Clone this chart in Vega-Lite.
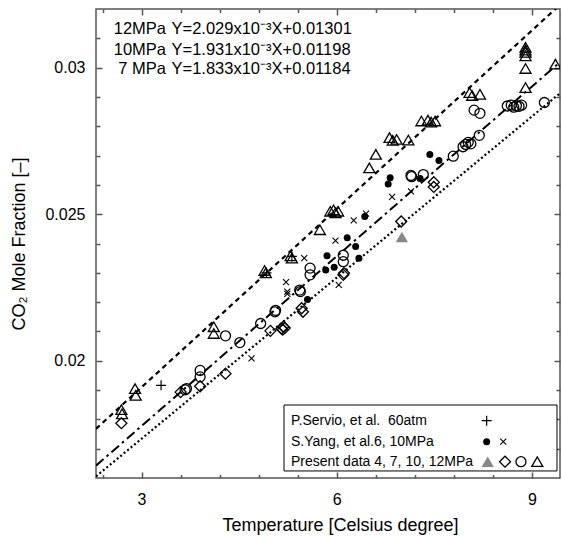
{
  "$schema": "https://vega.github.io/schema/vega-lite/v6.json",
  "width": 464,
  "height": 469,
  "autosize": {"type": "none"},
  "padding": {"left": 96, "top": 9, "right": 2, "bottom": 58},
  "config": {
    "font": "Liberation Sans",
    "view": {"stroke": "#555", "strokeWidth": 1.5},
    "axis": {"grid": false, "domain": false, "tickColor": "#555", "tickWidth": 1.5, "labelFont": "Liberation Sans", "labelFontSize": 16, "labelColor": "#000", "titleFont": "Liberation Sans", "titleFontSize": 18, "titleFontWeight": "normal", "titleColor": "#000"}
  },
  "datasets": {
    "fits": [
      {"fit": "12MPa", "temp": 2.3, "frac": 0.017677},
      {"fit": "12MPa", "temp": 9.43, "frac": 0.032143},
      {"fit": "10MPa", "temp": 2.3, "frac": 0.016421},
      {"fit": "10MPa", "temp": 9.43, "frac": 0.030189},
      {"fit": "7MPa", "temp": 2.3, "frac": 0.016056},
      {"fit": "7MPa", "temp": 9.43, "frac": 0.029125}
    ],
    "notes": [
      {"kind": "fit", "temp": 3.376, "frac": 0.031308, "label": "12MPa"},
      {"kind": "fit", "temp": 3.376, "frac": 0.030602, "label": "10MPa"},
      {"kind": "fit", "temp": 3.376, "frac": 0.029943, "label": "7 MPa"},
      {"kind": "eq", "temp": 3.46, "frac": 0.031308, "label": "Y=2.029x10⁻³X+0.01301"},
      {"kind": "eq", "temp": 3.46, "frac": 0.030602, "label": "Y=1.931x10⁻³X+0.01198"},
      {"kind": "eq", "temp": 3.46, "frac": 0.029943, "label": "Y=1.833x10⁻³X+0.01184"},
      {"kind": "key", "temp": 5.296, "frac": 0.017955, "label": "P.Servio, et al.\u00a0\u00a060atm"},
      {"kind": "key", "temp": 5.296, "frac": 0.017238, "label": "S.Yang, et al.6, 10MPa"},
      {"kind": "key", "temp": 5.296, "frac": 0.016556, "label": "Present data 4, 7, 10, 12MPa"}
    ],
    "keybox": [
      {"temp": 5.189, "temp2": 9.384, "frac": 0.01849, "frac2": 0.01624}
    ],
    "points": [
      {"set": "12MPa", "temp": 2.69, "frac": 0.01833}, {"set": "12MPa", "temp": 2.70, "frac": 0.01819},
      {"set": "12MPa", "temp": 2.90, "frac": 0.01905}, {"set": "12MPa", "temp": 2.91, "frac": 0.01882},
      {"set": "12MPa", "temp": 4.11, "frac": 0.02116}, {"set": "12MPa", "temp": 4.11, "frac": 0.02093},
      {"set": "12MPa", "temp": 4.89, "frac": 0.02308}, {"set": "12MPa", "temp": 4.91, "frac": 0.02300},
      {"set": "12MPa", "temp": 5.29, "frac": 0.02358}, {"set": "12MPa", "temp": 5.31, "frac": 0.02350},
      {"set": "12MPa", "temp": 5.74, "frac": 0.02447}, {"set": "12MPa", "temp": 5.90, "frac": 0.02510},
      {"set": "12MPa", "temp": 5.95, "frac": 0.02515}, {"set": "12MPa", "temp": 5.98, "frac": 0.02505},
      {"set": "12MPa", "temp": 6.02, "frac": 0.02510}, {"set": "12MPa", "temp": 6.50, "frac": 0.02658},
      {"set": "12MPa", "temp": 6.60, "frac": 0.02704}, {"set": "12MPa", "temp": 6.81, "frac": 0.02761},
      {"set": "12MPa", "temp": 6.86, "frac": 0.02752}, {"set": "12MPa", "temp": 6.92, "frac": 0.02755},
      {"set": "12MPa", "temp": 7.10, "frac": 0.02753}, {"set": "12MPa", "temp": 7.30, "frac": 0.02818},
      {"set": "12MPa", "temp": 7.40, "frac": 0.02821}, {"set": "12MPa", "temp": 7.45, "frac": 0.02814},
      {"set": "12MPa", "temp": 7.51, "frac": 0.02818}, {"set": "12MPa", "temp": 8.04, "frac": 0.02915},
      {"set": "12MPa", "temp": 8.08, "frac": 0.02905}, {"set": "12MPa", "temp": 8.20, "frac": 0.02909},
      {"set": "12MPa", "temp": 8.90, "frac": 0.03069}, {"set": "12MPa", "temp": 8.90, "frac": 0.03060},
      {"set": "12MPa", "temp": 8.90, "frac": 0.03052}, {"set": "12MPa", "temp": 8.90, "frac": 0.03040},
      {"set": "12MPa", "temp": 8.90, "frac": 0.02997}, {"set": "12MPa", "temp": 8.90, "frac": 0.02932},
      {"set": "12MPa", "temp": 9.36, "frac": 0.03012},
      {"set": "12MPa", "temp": 9.081, "frac": 0.016556},
      {"set": "10MPa", "temp": 3.67, "frac": 0.01901}, {"set": "10MPa", "temp": 3.69, "frac": 0.01905},
      {"set": "10MPa", "temp": 3.90, "frac": 0.01967}, {"set": "10MPa", "temp": 3.90, "frac": 0.01945},
      {"set": "10MPa", "temp": 4.29, "frac": 0.02085}, {"set": "10MPa", "temp": 4.51, "frac": 0.02062},
      {"set": "10MPa", "temp": 4.83, "frac": 0.02127}, {"set": "10MPa", "temp": 5.05, "frac": 0.02167},
      {"set": "10MPa", "temp": 5.06, "frac": 0.02172}, {"set": "10MPa", "temp": 5.43, "frac": 0.02241},
      {"set": "10MPa", "temp": 5.44, "frac": 0.02236}, {"set": "10MPa", "temp": 5.59, "frac": 0.02316},
      {"set": "10MPa", "temp": 5.59, "frac": 0.02293}, {"set": "10MPa", "temp": 6.10, "frac": 0.02360},
      {"set": "10MPa", "temp": 6.10, "frac": 0.02338}, {"set": "10MPa", "temp": 7.14, "frac": 0.02632},
      {"set": "10MPa", "temp": 7.15, "frac": 0.02628}, {"set": "10MPa", "temp": 7.33, "frac": 0.02635},
      {"set": "10MPa", "temp": 7.79, "frac": 0.02698}, {"set": "10MPa", "temp": 7.94, "frac": 0.02730},
      {"set": "10MPa", "temp": 7.98, "frac": 0.02738}, {"set": "10MPa", "temp": 8.02, "frac": 0.02745},
      {"set": "10MPa", "temp": 8.06, "frac": 0.02740}, {"set": "10MPa", "temp": 8.19, "frac": 0.02769},
      {"set": "10MPa", "temp": 8.11, "frac": 0.02855}, {"set": "10MPa", "temp": 8.20, "frac": 0.02844},
      {"set": "10MPa", "temp": 8.62, "frac": 0.02869}, {"set": "10MPa", "temp": 8.68, "frac": 0.02872},
      {"set": "10MPa", "temp": 8.72, "frac": 0.02865}, {"set": "10MPa", "temp": 8.76, "frac": 0.02870},
      {"set": "10MPa", "temp": 8.80, "frac": 0.02868}, {"set": "10MPa", "temp": 8.84, "frac": 0.02872},
      {"set": "10MPa", "temp": 9.19, "frac": 0.02881},
      {"set": "10MPa", "temp": 8.83, "frac": 0.016556},
      {"set": "7MPa", "temp": 2.69, "frac": 0.01787}, {"set": "7MPa", "temp": 3.60, "frac": 0.01893},
      {"set": "7MPa", "temp": 3.90, "frac": 0.01913}, {"set": "7MPa", "temp": 4.29, "frac": 0.01956},
      {"set": "7MPa", "temp": 4.98, "frac": 0.02102}, {"set": "7MPa", "temp": 5.15, "frac": 0.02110},
      {"set": "7MPa", "temp": 5.17, "frac": 0.02106}, {"set": "7MPa", "temp": 5.18, "frac": 0.02116},
      {"set": "7MPa", "temp": 5.20, "frac": 0.02112}, {"set": "7MPa", "temp": 5.46, "frac": 0.02179},
      {"set": "7MPa", "temp": 5.48, "frac": 0.02167}, {"set": "7MPa", "temp": 6.10, "frac": 0.02293},
      {"set": "7MPa", "temp": 6.11, "frac": 0.02299}, {"set": "7MPa", "temp": 6.99, "frac": 0.02475},
      {"set": "7MPa", "temp": 7.49, "frac": 0.02609}, {"set": "7MPa", "temp": 7.49, "frac": 0.02593},
      {"set": "7MPa", "temp": 8.585, "frac": 0.016556},
      {"set": "4MPa", "temp": 7.00, "frac": 0.02422},
      {"set": "4MPa", "temp": 8.319, "frac": 0.016556},
      {"set": "Yang dot", "temp": 5.55, "frac": 0.02209}, {"set": "Yang dot", "temp": 5.83, "frac": 0.02310},
      {"set": "Yang dot", "temp": 5.85, "frac": 0.02358}, {"set": "Yang dot", "temp": 5.96, "frac": 0.02319},
      {"set": "Yang dot", "temp": 6.16, "frac": 0.02420}, {"set": "Yang dot", "temp": 6.29, "frac": 0.02390},
      {"set": "Yang dot", "temp": 6.34, "frac": 0.02350}, {"set": "Yang dot", "temp": 6.43, "frac": 0.02492},
      {"set": "Yang dot", "temp": 6.79, "frac": 0.02603}, {"set": "Yang dot", "temp": 6.82, "frac": 0.02624},
      {"set": "Yang dot", "temp": 7.28, "frac": 0.02622}, {"set": "Yang dot", "temp": 7.43, "frac": 0.02704},
      {"set": "Yang dot", "temp": 7.57, "frac": 0.02683},
      {"set": "Yang dot", "temp": 8.303, "frac": 0.017238},
      {"set": "Yang x", "temp": 4.69, "frac": 0.02008}, {"set": "Yang x", "temp": 5.22, "frac": 0.02268},
      {"set": "Yang x", "temp": 5.24, "frac": 0.02236}, {"set": "Yang x", "temp": 5.24, "frac": 0.02228},
      {"set": "Yang x", "temp": 5.50, "frac": 0.02350}, {"set": "Yang x", "temp": 5.98, "frac": 0.02410},
      {"set": "Yang x", "temp": 6.03, "frac": 0.02259}, {"set": "Yang x", "temp": 6.26, "frac": 0.02479},
      {"set": "Yang x", "temp": 6.45, "frac": 0.02502}, {"set": "Yang x", "temp": 6.85, "frac": 0.02559},
      {"set": "Yang x", "temp": 7.14, "frac": 0.02578},
      {"set": "Yang x", "temp": 8.558, "frac": 0.017238},
      {"set": "Servio", "temp": 3.30, "frac": 0.01916}, {"set": "Servio", "temp": 4.92, "frac": 0.02300},
      {"set": "Servio", "temp": 5.31, "frac": 0.02356},
      {"set": "Servio", "temp": 8.303, "frac": 0.017955}
    ]
  },
  "encoding": {
    "x": {"field": "temp", "type": "quantitative", "scale": {"domain": [2.3, 9.43], "nice": false, "zero": false}, "axis": null},
    "y": {"field": "frac", "type": "quantitative", "scale": {"domain": [0.016, 0.032], "nice": false, "zero": false}, "axis": null}
  },
  "layer": [
    {
      "data": {"name": "keybox"},
      "mark": {"type": "rect", "fill": "white", "stroke": "black", "strokeWidth": 1},
      "encoding": {
        "x2": {"field": "temp2"},
        "y2": {"field": "frac2"}
      }
    },
    {
      "data": {"name": "fits"},
      "transform": [{"filter": "datum.fit === '12MPa'"}],
      "mark": {"type": "line", "color": "black", "strokeWidth": 2.2, "strokeDash": [5, 4], "clip": true},
      "encoding": {
        "x": {"field": "temp", "type": "quantitative", "scale": {"domain": [2.3, 9.43], "nice": false, "zero": false},
          "axis": {"orient": "bottom", "values": [3, 6, 9], "tickSize": -6, "labelPadding": 19, "title": "Temperature [Celsius degree]", "titlePadding": 9, "titleX": 244, "titleAlign": "center"}},
        "y": {"field": "frac", "type": "quantitative", "scale": {"domain": [0.016, 0.032], "nice": false, "zero": false},
          "axis": {"orient": "left", "values": [0.02, 0.025, 0.03], "format": ".3~f", "tickSize": -6, "labelPadding": 17, "title": "CO₂ Mole Fraction [–]", "titlePadding": 16}}
      }
    },
    {
      "data": {"name": "fits"},
      "transform": [{"filter": "datum.fit === '10MPa'"}],
      "mark": {"type": "line", "color": "black", "strokeWidth": 2, "strokeDash": [10, 4, 2.5, 4], "clip": true},
      "encoding": {
        "x": {"field": "temp", "type": "quantitative", "axis": {"orient": "bottom", "values": [2.4, 3.6, 4.2, 4.8, 5.4, 6.6, 7.2, 7.8, 8.4], "labels": false, "title": null, "tickSize": -3.5}},
        "y": {"field": "frac", "type": "quantitative", "axis": {"orient": "left", "values": [0.017, 0.018, 0.019, 0.021, 0.022, 0.023, 0.024, 0.026, 0.027, 0.028, 0.029, 0.031], "labels": false, "title": null, "tickSize": -4}}
      }
    },
    {
      "data": {"name": "fits"},
      "transform": [{"filter": "datum.fit === '7MPa'"}],
      "mark": {"type": "line", "color": "black", "strokeWidth": 2.2, "strokeDash": [2, 2.5], "clip": true},
      "encoding": {
        "x": {"field": "temp", "type": "quantitative", "axis": {"orient": "top", "values": [3, 6, 9], "labels": false, "title": null, "tickSize": -6}},
        "y": {"field": "frac", "type": "quantitative", "axis": {"orient": "right", "values": [0.02, 0.025, 0.03], "labels": false, "title": null, "tickSize": -6}}
      }
    },
    {
      "data": {"name": "points"},
      "transform": [{"filter": "datum.set === '12MPa'"}],
      "mark": {"type": "point", "shape": "triangle-up", "filled": false, "color": "black", "strokeWidth": 1.3, "size": 121, "opacity": 1, "clip": true},
      "encoding": {
        "x": {"field": "temp", "type": "quantitative", "axis": {"orient": "top", "values": [2.4, 3.6, 4.2, 4.8, 5.4, 6.6, 7.2, 7.8, 8.4], "labels": false, "title": null, "tickSize": -3.5}},
        "y": {"field": "frac", "type": "quantitative", "axis": {"orient": "right", "values": [0.017, 0.018, 0.019, 0.021, 0.022, 0.023, 0.024, 0.026, 0.027, 0.028, 0.029, 0.031], "labels": false, "title": null, "tickSize": -4}}
      }
    },
    {
      "data": {"name": "points"},
      "transform": [{"filter": "datum.set === '10MPa'"}],
      "mark": {"type": "point", "shape": "circle", "filled": false, "color": "black", "strokeWidth": 1.3, "size": 100, "opacity": 1}
    },
    {
      "data": {"name": "points"},
      "transform": [{"filter": "datum.set === '7MPa'"}],
      "mark": {"type": "point", "shape": "diamond", "filled": false, "color": "black", "strokeWidth": 1.3, "size": 121, "opacity": 1}
    },
    {
      "data": {"name": "points"},
      "transform": [{"filter": "datum.set === '4MPa'"}],
      "mark": {"type": "point", "shape": "triangle-up", "filled": true, "color": "#888888", "size": 150, "opacity": 1}
    },
    {
      "data": {"name": "points"},
      "transform": [{"filter": "datum.set === 'Yang dot'"}],
      "mark": {"type": "point", "shape": "circle", "filled": true, "color": "black", "size": 49, "opacity": 1}
    },
    {
      "data": {"name": "points"},
      "transform": [{"filter": "datum.set === 'Yang x'"}],
      "mark": {"type": "point", "shape": "M-1,-1L1,1M-1,1L1,-1", "filled": false, "color": "black", "strokeWidth": 1.1, "size": 36, "opacity": 1}
    },
    {
      "data": {"name": "points"},
      "transform": [{"filter": "datum.set === 'Servio'"}],
      "mark": {"type": "point", "shape": "M-1,0L1,0M0,-1L0,1", "filled": false, "color": "black", "strokeWidth": 1.2, "size": 100, "opacity": 1}
    },
    {
      "data": {"name": "notes"},
      "transform": [{"filter": "datum.kind === 'fit'"}],
      "mark": {"type": "text", "align": "right", "baseline": "middle", "fontSize": 16.5, "color": "black"},
      "encoding": {"text": {"field": "label"}}
    },
    {
      "data": {"name": "notes"},
      "transform": [{"filter": "datum.kind === 'eq'"}],
      "mark": {"type": "text", "align": "left", "baseline": "middle", "fontSize": 16.5, "color": "black"},
      "encoding": {"text": {"field": "label"}}
    },
    {
      "data": {"name": "notes"},
      "transform": [{"filter": "datum.kind === 'key'"}],
      "mark": {"type": "text", "align": "left", "baseline": "middle", "fontSize": 14, "color": "black"},
      "encoding": {"text": {"field": "label"}}
    }
  ],
  "resolve": {"axis": {"x": "independent", "y": "independent"}}
}
